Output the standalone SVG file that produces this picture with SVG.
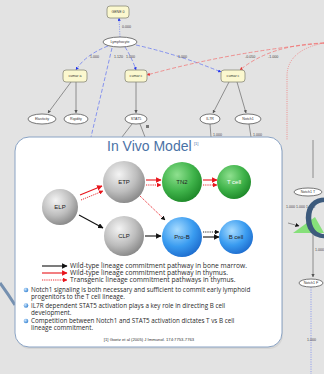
<svg xmlns="http://www.w3.org/2000/svg" width="324" height="374" viewBox="0 0 324 374">
<defs>
<style>
.bx{fill:#fbf8cf;stroke:#8a8a7a;stroke-width:0.8}
.el{fill:#fff;stroke:#555;stroke-width:0.8}
.nl{font-family:"Liberation Sans",Arial,sans-serif;font-size:3.6px;fill:#333;text-anchor:middle}
.el2{font-family:"Liberation Sans",Arial,sans-serif;font-size:3.6px;fill:#444}
.gl{stroke:#777;stroke-width:0.8;fill:none}
.bd{stroke:#6f7ff0;stroke-width:0.8;fill:none;stroke-dasharray:4 2}
.bdot{stroke:#7f8ff0;stroke-width:0.8;fill:none;stroke-dasharray:1.2 1.2}
.rd{stroke:#f07a7a;stroke-width:0.8;fill:none;stroke-dasharray:4 2}
.rdot{stroke:#f07a7a;stroke-width:0.8;fill:none;stroke-dasharray:1 1.2}
.sl{font-family:"Liberation Sans",Arial,sans-serif;font-size:6px;fill:#222;text-anchor:middle}
.sw{font-family:"Liberation Sans",Arial,sans-serif;font-size:6px;fill:#fff;text-anchor:middle}
.tx{font-family:"Open Sans","Liberation Sans",Arial,sans-serif;font-size:6.3px;fill:#2a2a2a}
.lg{font-family:"Open Sans","Liberation Sans",Arial,sans-serif;font-size:6.7px;fill:#2a2a2a}
.blk{stroke:#111;stroke-width:1.1;fill:none}
.red{stroke:#e8141b;stroke-width:1.1;fill:none}
.rdt{stroke:#e8141b;stroke-width:0.9;fill:none;stroke-dasharray:1.2 1}
.bkd{stroke:#111;stroke-width:0.9;fill:none;stroke-dasharray:1.2 1}
</style>
<marker id="ak" viewBox="0 0 10 10" refX="9" refY="5" markerWidth="5" markerHeight="5" orient="auto"><path d="M0,0 L10,5 L0,10 z" fill="#111"/></marker>
<marker id="ar" viewBox="0 0 10 10" refX="9" refY="5" markerWidth="5" markerHeight="5" orient="auto"><path d="M0,0 L10,5 L0,10 z" fill="#e8141b"/></marker>
<marker id="ab" viewBox="0 0 10 10" refX="9" refY="5" markerWidth="4" markerHeight="4" orient="auto"><path d="M0,0 L10,5 L0,10 z" fill="#2233ee"/></marker>
<marker id="arr" viewBox="0 0 10 10" refX="9" refY="5" markerWidth="4" markerHeight="4" orient="auto"><path d="M0,0 L10,5 L0,10 z" fill="#e83030"/></marker>
<marker id="ag" viewBox="0 0 10 10" refX="9" refY="5" markerWidth="4" markerHeight="4" orient="auto"><path d="M0,0 L10,5 L0,10 z" fill="#555"/></marker>
<radialGradient id="gg" cx="0.38" cy="0.32" r="0.7"><stop offset="0" stop-color="#f4f4f4"/><stop offset="0.6" stop-color="#bdbdbd"/><stop offset="1" stop-color="#8a8a8a"/></radialGradient>
<radialGradient id="gr" cx="0.38" cy="0.32" r="0.7"><stop offset="0" stop-color="#8fe08f"/><stop offset="0.6" stop-color="#3fb34a"/><stop offset="1" stop-color="#1f8a2a"/></radialGradient>
<radialGradient id="gb" cx="0.38" cy="0.32" r="0.7"><stop offset="0" stop-color="#a8dcff"/><stop offset="0.6" stop-color="#3a9cf0"/><stop offset="1" stop-color="#1f6fd0"/></radialGradient>
<radialGradient id="bul" cx="0.35" cy="0.35" r="0.7"><stop offset="0" stop-color="#cfe8ff"/><stop offset="1" stop-color="#2f7fd0"/></radialGradient>
</defs>
<rect width="324" height="374" fill="#e3e3e3"/>

<g id="connectors">
<path class="bdot" d="M120,37 L119,18" marker-end="url(#ab)"/>
<path class="bd" d="M108,46 Q85,55 76,70" marker-end="url(#ab)"/>
<path class="bd" d="M125,47 Q132,58 136,70" marker-end="url(#ab)"/>
<path class="bd" d="M112,48 L91,137"/>
<path class="bd" d="M136,45 Q180,55 221,72" marker-end="url(#ab)"/>
<path class="rd" d="M324,43 Q230,52 147,75" marker-end="url(#arr)"/>
<path class="rd" d="M324,43 Q270,45 240,70" marker-end="url(#arr)"/>
<path class="rdot" d="M324,43 Q288,50 287,75 L287,140"/>
<path class="gl" d="M71,82 L48,113" marker-end="url(#ag)"/>
<path class="gl" d="M76,82 L76,113" marker-end="url(#ag)"/>
<path class="gl" d="M136,82 L136,113" marker-end="url(#ag)"/>
<path class="gl" d="M132,124 L122,137"/>
<path class="gl" d="M140,124 L145,137"/>
<path class="gl" d="M229,82 L213,113" marker-end="url(#ag)"/>
<path class="gl" d="M237,82 L246,113" marker-end="url(#ag)"/>
<path class="gl" d="M210,124 L211,137"/>
<path class="gl" d="M249,124 L251,137"/>
<path class="gl" d="M313,140 L313,178"/>
<path class="gl" d="M288,223 L299,226" marker-end="url(#ak)"/>
<path class="gl" d="M313,233 L313,277" marker-end="url(#ag)"/>
<path class="bdot" d="M311,287 L311,374"/>
</g>

<g id="bg-labels">
<text class="el2" x="122" y="28">0.000</text>
<text class="el2" x="90" y="58">1.000</text>
<text class="el2" x="114" y="58">1.120</text>
<text class="el2" x="126" y="58">1.000</text>
<text class="el2" x="178" y="58">1.000</text>
<text class="el2" x="245" y="58">-0.050</text>
<text class="el2" x="268" y="58">-1.000</text>
<text class="el2" x="213" y="136">1.000</text>
<text class="el2" x="253" y="136">1.000</text>
<text class="el2" x="286" y="208">1.000 1.000 1.000</text>
<text class="el2" x="315" y="251">1.000</text>
<text class="el2" x="307" y="341">1.000</text>
<rect x="146" y="125" width="3" height="3" fill="#777"/>
</g>

<g id="n-gene"><rect class="bx" x="107" y="6" width="22" height="12" rx="3"/><text class="nl" x="118" y="13.3">GENE 0</text></g>
<g id="n-lymph"><ellipse class="el" cx="120" cy="42" rx="17" ry="5"/><text class="nl" x="120" y="43.3">Lymphocyte</text></g>
<g id="n-cumara"><rect class="bx" x="63" y="70" width="24" height="12" rx="3"/><text class="nl" x="75" y="77.3">cumar a</text></g>
<g id="n-cumarc"><rect class="bx" x="125" y="70" width="22" height="12" rx="3"/><text class="nl" x="136" y="77.3">cumar c</text></g>
<g id="n-cumarc2"><rect class="bx" x="221" y="70" width="24" height="12" rx="3"/><text class="nl" x="233" y="77.3">cumar c</text></g>
<g id="n-elast"><ellipse class="el" cx="42" cy="119" rx="14" ry="5"/><text class="nl" x="42" y="120.3">Elasticity</text></g>
<g id="n-rigid"><ellipse class="el" cx="76" cy="119" rx="12" ry="5"/><text class="nl" x="76" y="120.3">Rigidity</text></g>
<g id="n-stat5"><ellipse class="el" cx="136" cy="119" rx="11" ry="5"/><text class="nl" x="136" y="120.3">STAT5</text></g>
<g id="n-il7r"><ellipse class="el" cx="210" cy="119" rx="10" ry="5"/><text class="nl" x="210" y="120.3">IL7R</text></g>
<g id="n-notch"><ellipse class="el" cx="248" cy="119" rx="13" ry="5"/><text class="nl" x="248" y="120.3">Notch1</text></g>
<g id="n-notcht"><ellipse class="el" cx="308" cy="192" rx="14" ry="4"/><text class="nl" x="308" y="193.3">Notch1 T</text></g>
<g id="n-notchf"><ellipse class="el" cx="311" cy="283" rx="12" ry="4"/><text class="nl" x="311" y="284.3">Notch1 F</text></g>
<polygon points="293,233 315,217 324,233" fill="#86e07a"/>
<text x="303" y="238" font-family="Liberation Sans,Arial,sans-serif" font-size="58" fill="#3c5a7c">O</text>
<path d="M0,283 Q8,294 15,305" stroke="#7590b0" stroke-width="3" fill="none"/>

<g id="panel">
<rect x="16" y="139" width="267" height="210" rx="14" fill="#c8c8c8" opacity="0.5"/>
<rect x="15" y="137" width="267" height="210" rx="14" fill="#fff" stroke="#8aa3c4" stroke-width="1"/>
<text x="107" y="151" font-family="Liberation Sans,Arial,sans-serif" font-size="14" fill="#4a72a6">In Vivo Model</text>
<text x="194" y="145" font-family="Liberation Sans,Arial,sans-serif" font-size="4" fill="#4a72a6">[1]</text>
</g>

<g id="arrows">
<path class="red" d="M80,195 L102,186" marker-end="url(#ar)"/>
<path class="rdt" d="M81,200 L103,191" marker-end="url(#ar)"/>
<path class="blk" d="M79,215 L103,228" marker-end="url(#ak)"/>
<path class="red" d="M146,180 L161,180" marker-end="url(#ar)"/>
<path class="rdt" d="M146,185 L161,185" marker-end="url(#ar)"/>
<path class="rdt" d="M140,196 L165,220" marker-end="url(#ak)"/>
<path class="blk" d="M145,236 L161,236" marker-end="url(#ak)"/>
<path class="red" d="M203,180 L217,180" marker-end="url(#ar)"/>
<path class="rdt" d="M203,185 L217,185" marker-end="url(#ar)"/>
<path class="bkd" d="M203,232 L219,232" marker-end="url(#ak)"/>
<path class="blk" d="M203,237 L219,237" marker-end="url(#ak)"/>
</g>

<g id="elp"><circle cx="60" cy="207" r="18" fill="url(#gg)"/><text class="sl" x="60" y="209">ELP</text></g>
<g id="etp"><circle cx="124" cy="182" r="21" fill="url(#gg)"/><text class="sl" x="124" y="184">ETP</text></g>
<g id="clp"><circle cx="124" cy="236" r="20" fill="url(#gg)"/><text class="sl" x="124" y="238">CLP</text></g>
<g id="tn2"><circle cx="182" cy="182" r="20" fill="url(#gr)"/><text class="sl" x="182" y="184">TN2</text></g>
<g id="tcell"><circle cx="234" cy="182" r="17" fill="url(#gr)"/><text class="sw" x="234" y="184">T cell</text></g>
<g id="prob"><circle cx="182" cy="237" r="20" fill="url(#gb)"/><text class="sl" x="182" y="239">Pro-B</text></g>
<g id="bcell"><circle cx="236" cy="237" r="17" fill="url(#gb)"/><text class="sl" x="236" y="239">B cell</text></g>

<g id="legend">
<path class="blk" d="M42,266 L67,266" marker-end="url(#ak)"/>
<path class="red" d="M42,273 L67,273" marker-end="url(#ar)"/>
<path class="rdt" d="M42,280 L67,280" marker-end="url(#ar)"/>
<text class="lg" x="70" y="268">Wild-type lineage commitment pathway in bone marrow.</text>
<text class="lg" x="70" y="275">Wild-type lineage commitment pathway in thymus.</text>
<text class="lg" x="70" y="282">Transgenic lineage commitment pathways in thymus.</text>
<circle cx="26" cy="290" r="2.3" fill="url(#bul)"/>
<text class="tx" x="31" y="292">Notch1 signaling is both necessary and sufficient to commit early lymphoid</text>
<text class="tx" x="31" y="299">progenitors to the T cell lineage.</text>
<circle cx="26" cy="305.5" r="2.3" fill="url(#bul)"/>
<text class="tx" x="31" y="307.5">IL7R dependent STAT5 activation plays a key role in directing B cell</text>
<text class="tx" x="31" y="314.5">development.</text>
<circle cx="26" cy="321" r="2.3" fill="url(#bul)"/>
<text class="tx" x="31" y="323">Competition between Notch1 and STAT5 activation dictates T vs B cell</text>
<text class="tx" x="31" y="330">lineage commitment.</text>
<text x="149" y="341" text-anchor="middle" font-family="Liberation Sans,Arial,sans-serif" font-size="4.2" fill="#333">[1] Goetz et al (2005) J Immunol. 174:7753-7763</text>
</g>
</svg>
